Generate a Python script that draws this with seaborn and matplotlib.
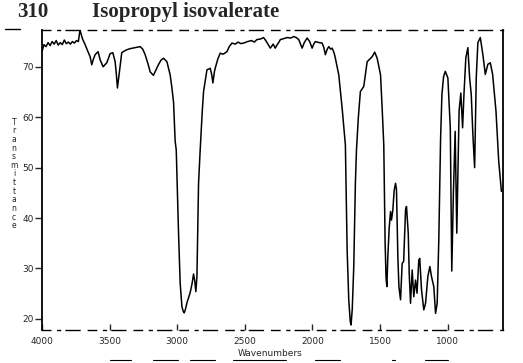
import numpy as np
import pandas as pd
import seaborn as sns
import matplotlib.pyplot as plt
from matplotlib.lines import Line2D

# IR spectrum (wavenumber in cm-1, % transmittance)
wavenumber = [4000, 3985, 3970, 3955, 3940, 3925, 3910, 3895, 3880, 3865, 3850, 3835, 3820,
              3805, 3790, 3775, 3760, 3745, 3731, 3719, 3700, 3681, 3660, 3644, 3632, 3620,
              3607, 3585, 3570, 3548, 3521, 3496, 3476, 3459, 3450, 3442, 3430, 3410, 3380,
              3348, 3310, 3274, 3255, 3237, 3215, 3200, 3176, 3155, 3139, 3120, 3101, 3076,
              3052, 3040, 3027, 3015, 3007, 2990, 2978, 2965, 2955, 2948, 2938, 2928, 2904,
              2890, 2879, 2870, 2862, 2854, 2842, 2830, 2815, 2805, 2780, 2756, 2745, 2736,
              2725, 2719, 2700, 2682, 2660, 2632, 2615, 2595, 2570, 2550, 2530, 2509, 2480,
              2450, 2430, 2410, 2385, 2361, 2340, 2311, 2290, 2275, 2260, 2245, 2237, 2210,
              2187, 2160, 2138, 2120, 2101, 2076, 2060, 2039, 2020, 2002, 1990, 1978, 1950,
              1928, 1915, 1904, 1890, 1879, 1865, 1854, 1840, 1830, 1805, 1780, 1756, 1743,
              1731, 1720, 1714, 1705, 1694, 1682, 1674, 1660, 1645, 1620, 1595, 1558, 1539,
              1521, 1496, 1484, 1472, 1462, 1455, 1449, 1442, 1432, 1422, 1415, 1405, 1395,
              1385, 1378, 1368, 1360, 1348, 1336, 1325, 1311, 1304, 1291, 1284, 1274, 1262,
              1250, 1237, 1226, 1213, 1206, 1193, 1176, 1163, 1146, 1131, 1119, 1102, 1089,
              1077, 1065, 1052, 1042, 1030, 1017, 998, 980, 969, 957, 944, 932, 915, 902,
              889, 879, 865, 850, 837, 825, 813, 800, 788, 776, 758, 739, 721, 702, 684,
              667, 642, 622, 602]
transmittance = [73.0, 74.4, 74.0, 74.8, 74.2, 75.0, 74.5, 75.2, 74.3, 74.8, 74.4, 75.3, 74.6,
                 74.9, 74.5, 75.0, 74.7, 75.2, 75.0, 77.3, 75.5, 74.4, 73.0, 72.0, 70.4, 71.5,
                 72.4, 73.0, 71.4, 70.0, 70.8, 72.6, 72.8, 71.0, 68.5, 65.8, 68.4, 72.8, 73.3,
                 73.6, 73.8, 74.0, 73.5, 72.4, 70.5, 69.0, 68.3, 69.5, 70.4, 71.3, 71.7, 71.0,
                 68.4, 66.0, 63.0, 55.2, 53.5, 37.0, 27.1, 22.4, 21.5, 21.2, 22.0, 23.2, 25.2,
                 27.0, 28.9, 27.5, 25.4, 28.4, 46.9, 53.5, 61.0, 65.1, 69.4, 69.7, 68.5, 66.8,
                 69.0, 69.7, 71.5, 72.7, 72.5, 73.0, 74.0, 74.7, 74.5, 74.9, 74.6, 74.7, 75.0,
                 75.2, 74.9, 75.4, 75.5, 75.8, 75.0, 73.7, 74.5, 73.7, 74.4, 75.0, 75.4, 75.6,
                 75.8, 75.7, 76.0, 75.8, 75.4, 73.7, 74.8, 75.7, 75.0, 73.7, 74.5, 75.0, 74.8,
                 74.7, 73.8, 72.4, 73.5, 74.0, 73.5, 73.7, 72.8, 71.7, 68.4, 61.8, 54.5, 33.7,
                 23.8, 19.5, 18.8, 22.0, 30.4, 46.9, 53.5, 60.0, 65.1, 66.1, 71.0, 72.0, 72.9,
                 71.7, 68.4, 61.8, 54.5, 35.0, 28.0, 26.4, 32.4, 38.0, 41.3, 39.6, 41.6, 45.5,
                 46.9, 45.6, 32.4, 26.4, 23.8, 31.0, 31.4, 41.6, 42.3, 37.0, 29.1, 23.1, 29.7,
                 24.4, 27.7, 25.1, 31.7, 32.0, 25.8, 21.8, 23.1, 28.4, 30.4, 28.4, 26.4, 21.1,
                 23.1, 35.7, 55.5, 64.5, 68.0, 69.1, 67.8, 57.9, 29.5, 45.0, 57.2, 37.0, 61.2, 64.8,
                 57.9, 64.5, 71.8, 73.8, 67.8, 64.5, 56.6, 50.0, 67.8, 74.8, 75.8, 72.4, 68.5,
                 70.5, 70.8, 68.5, 61.2, 51.3, 45.3]

x_ticks = [4000, 3500, 3000, 2500, 2000, 1500, 1000]
y_ticks = [20, 30, 40, 50, 60, 70]

df = pd.DataFrame({'Wavenumbers': wavenumber, 'Transmittance': transmittance})

sns.set_style("white")
fig = plt.figure(figsize=(5.23, 3.63), dpi=100)
ax = fig.add_axes([0.0803, 0.0909, 0.8815, 0.8265])

sns.lineplot(data=df, x='Wavenumbers', y='Transmittance', color='black',
             linewidth=1.1, estimator=None, ax=ax)

ax.set_xlim(4000, 590)
ax.set_ylim(17.8, 77.3)
ax.set_xticks(x_ticks)
ax.set_yticks(y_ticks)
ax.tick_params(axis='y', direction='out', length=5, width=1, left=True, labelsize=6.5, pad=1)
ax.tick_params(axis='x', direction='in', length=4, width=1, bottom=True, labelsize=6.5, pad=5)
ax.set_xlabel('')
ax.set_ylabel('')

for s in ['left', 'right']:
    ax.spines[s].set_linewidth(1.3)
    ax.spines[s].set_color('black')
for s in ['top', 'bottom']:
    ax.spines[s].set_linewidth(1.0)
    ax.spines[s].set_color('black')
    ax.spines[s].set_linestyle((0, (6, 5, 2, 4, 10, 6)))

# title line
fig.text(17 / 523, 1 - 12 / 363, '310', fontsize=15, fontweight='bold',
         family='Liberation Serif', va='center')
fig.text(92 / 523, 1 - 12 / 363, 'Isopropyl isovalerate', fontsize=15, fontweight='bold',
         family='Liberation Serif', va='center')
fig.add_artist(Line2D([5 / 523, 20 / 523], [1 - 29 / 363, 1 - 29 / 363], color='black', lw=1))

# stacked axis label and x label
fig.text(14 / 523, 1 - 174 / 363, '\n'.join('Transmittance'), fontsize=5.5,
         linespacing=0.95, ha='center', va='center')
fig.text(270 / 523, 1 - 354 / 363, 'Wavenumbers', fontsize=6.5, ha='center', va='center')

# scanner marks under the axis
for x0, x1 in [(110, 131), (153, 178), (190, 215), (233, 286), (315, 340), (392, 395), (425, 448)]:
    fig.add_artist(Line2D([x0 / 523, x1 / 523], [1 - 360 / 363, 1 - 360 / 363],
                          color='black', lw=0.8))

plt.savefig('out.png', dpi=100)
